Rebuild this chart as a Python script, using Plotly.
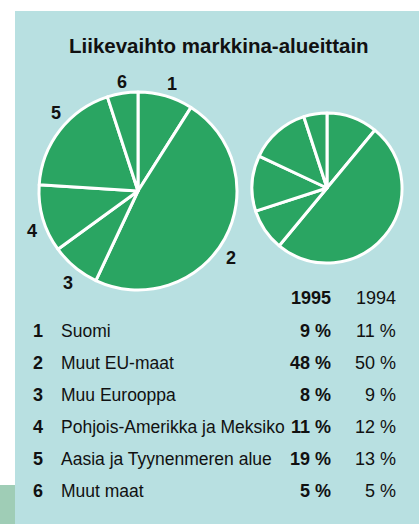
import plotly.graph_objects as go

W, H = 419, 524

categories = ["Suomi", "Muut EU-maat", "Muu Eurooppa",
              "Pohjois-Amerikka ja Meksiko", "Aasia ja Tyynenmeren alue", "Muut maat"]
numbers = ["1", "2", "3", "4", "5", "6"]
values_1995 = [9, 48, 8, 11, 19, 5]
values_1994 = [11, 50, 9, 12, 13, 5]
years = ["1995", "1994"]
title = "Liikevaihto markkina-alueittain"

BG = "#b8e0e1"
GREEN = "#2aa562"
FONT = "Liberation Sans, Arial, sans-serif"
TXT = "#111111"


def px(x, y):
    return x / W, 1 - y / H


def dom(cx, cy, r):
    return dict(x=[(cx - r) / W, (cx + r) / W], y=[1 - (cy + r) / H, 1 - (cy - r) / H])


fig = go.Figure()
fig.add_trace(go.Pie(values=values_1995, labels=numbers, sort=False, direction="clockwise",
                     rotation=0, textinfo="none", hoverinfo="label+value",
                     marker=dict(colors=[GREEN] * 6, line=dict(color="white", width=3)),
                     domain=dom(138, 191, 99), showlegend=False))
fig.add_trace(go.Pie(values=values_1994, labels=numbers, sort=False, direction="clockwise",
                     rotation=0, textinfo="none", hoverinfo="label+value",
                     marker=dict(colors=[GREEN] * 6, line=dict(color="white", width=3)),
                     domain=dom(327, 188, 75), showlegend=False))

shapes = [
    dict(type="rect", xref="paper", yref="paper", x0=15 / W, x1=1, y0=0, y1=1 - 11 / H,
         fillcolor=BG, line=dict(width=0), layer="below"),
    dict(type="rect", xref="paper", yref="paper", x0=0, x1=15 / W, y0=0, y1=1 - 485 / H,
         fillcolor="#9fcdb6", line=dict(width=0), layer="below"),
]

ann = []


def text(x, y, s, size=18, bold=False, anchor="center"):
    ax, ay = px(x, y)
    ann.append(dict(x=ax, y=ay, xref="paper", yref="paper", text=s, showarrow=False,
                    xanchor=anchor, yanchor="middle",
                    font=dict(family=FONT, size=size, color=TXT,
                              weight="bold" if bold else "normal")))


text(219, 46, title, size=20.5, bold=True)

# pie slice labels
label_pos = [(172, 84), (231, 258), (68, 283), (32, 231), (56, 113), (122, 82)]
for n, (x, y) in zip(numbers, label_pos):
    text(x, y, n, size=18, bold=True)

# table
text(333, 298, years[0], size=18, bold=True, anchor="right")
text(398, 298, years[1], size=18, anchor="right")
row_y = [331, 363, 395, 427, 459, 491]
for n, c, v5, v4, y in zip(numbers, categories, values_1995, values_1994, row_y):
    text(38, y, n, size=18, bold=True)
    text(59, y, c, size=17.5, anchor="left")
    text(333, y, f"{v5} %", size=18, bold=True, anchor="right")
    text(398, y, f"{v4} %", size=18, anchor="right")

fig.update_layout(width=W, height=H, margin=dict(l=0, r=0, t=0, b=0),
                  paper_bgcolor="white", plot_bgcolor="white",
                  shapes=shapes, annotations=ann)

fig.write_html("out.html", config={"displayModeBar": False},
               post_script="document.body.style.margin='0';document.body.style.overflow='hidden';")
